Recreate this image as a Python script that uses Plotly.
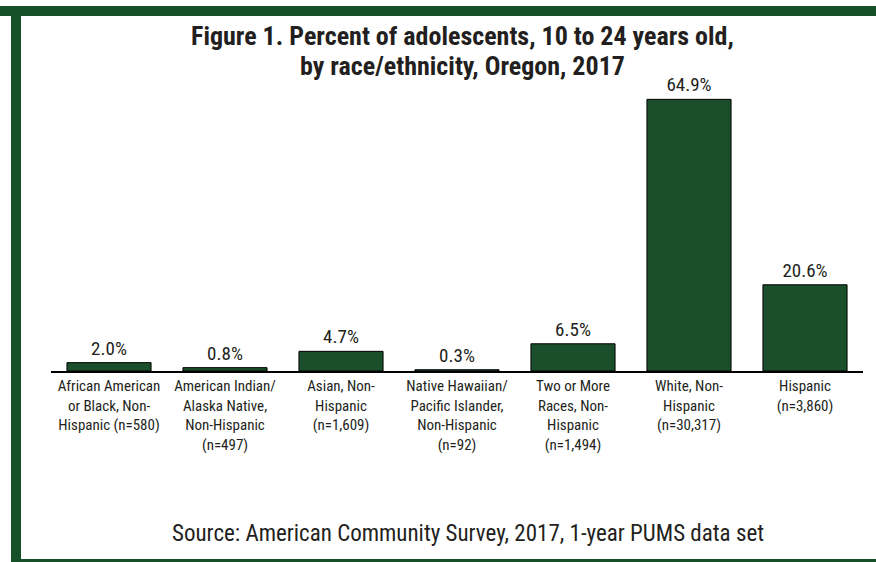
import plotly.graph_objects as go

# Data: share of Oregon adolescents (10-24) by race/ethnicity, 2017
categories = [
    "African American<br>or Black, Non-<br>Hispanic (n=580)",
    "American Indian/<br>Alaska Native,<br>Non-Hispanic<br>(n=497)",
    "Asian, Non-<br>Hispanic<br>(n=1,609)",
    "Native Hawaiian/<br>Pacific Islander,<br>Non-Hispanic<br>(n=92)",
    "Two or More<br>Races, Non-<br>Hispanic<br>(n=1,494)",
    "White, Non-<br>Hispanic<br>(n=30,317)",
    "Hispanic<br>(n=3,860)",
]
percents = [2.0, 0.8, 4.7, 0.3, 6.5, 64.9, 20.6]
value_labels = [f"{v:.1f}%" for v in percents]

title_lines = [
    "Figure 1. Percent of adolescents, 10 to 24 years old,",
    "by race/ethnicity, Oregon, 2017",
]
source_text = "Source: American Community Survey, 2017, 1-year PUMS data set"

# Layout geometry (pixels)
W, H = 876, 562
ML, MR, MT, MB = 51, 13, 78, 191
PW, PH = W - ML - MR, H - MT - MB

NARROW = "Liberation Sans Narrow, Arial Narrow, Roboto Condensed, DejaVu Sans Condensed, sans-serif"
TEXT = "#231f20"
BAR_GREEN = "#1b4f2b"
FRAME_GREEN = "#165028"


def px_x(x):
    return (x - ML) / PW


def px_y(y):
    return (H - MB - y) / PH


fig = go.Figure(
    go.Bar(
        x=categories,
        y=percents,
        width=0.725,
        marker=dict(color=BAR_GREEN, line=dict(color="#000000", width=1)),
        text=value_labels,
        textposition="outside",
        cliponaxis=False,
        textfont=dict(family=NARROW, size=19, color=TEXT),
        hoverinfo="skip",
    )
)

# Green frame: top band, left band, bottom band
frame = [
    (0, 6, W, 16),
    (11, 6, 21, H),
    (11, 559, W, H),
]
shapes = [
    dict(
        type="rect", xref="paper", yref="paper",
        x0=px_x(x0), x1=px_x(x1), y0=px_y(y1), y1=px_y(y0),
        fillcolor=FRAME_GREEN, line=dict(width=0), layer="above",
    )
    for x0, y0, x1, y1 in frame
]

# Two title lines placed individually for tight line spacing
annotations = [
    dict(
        text=f"<b>{line}</b>",
        xref="paper", yref="paper", x=px_x(462), y=px_y(cy),
        xanchor="center", yanchor="middle", showarrow=False,
        font=dict(family=NARROW, size=26, color=TEXT),
    )
    for line, cy in zip(title_lines, [36, 66])
]
annotations.append(
    dict(
        text=source_text,
        xref="paper", yref="paper", x=px_x(468), y=px_y(533),
        xanchor="center", yanchor="middle", showarrow=False,
        font=dict(family=NARROW, size=23, color=TEXT),
    )
)

fig.update_layout(
    width=W, height=H,
    margin=dict(l=ML, r=MR, t=MT, b=MB, autoexpand=False),
    paper_bgcolor="white", plot_bgcolor="white",
    showlegend=False,
    bargap=0.275,
    shapes=shapes,
    annotations=annotations,
    xaxis=dict(
        type="category", range=[-0.5, 6.5],
        showline=True, linecolor="#000000", linewidth=2,
        ticks="", showgrid=False, zeroline=False,
        tickfont=dict(family=NARROW, size=15, color=TEXT),
        tickangle=0,
    ),
    yaxis=dict(range=[0, 70], visible=False, fixedrange=True),
)

fig.write_html("out.html")
